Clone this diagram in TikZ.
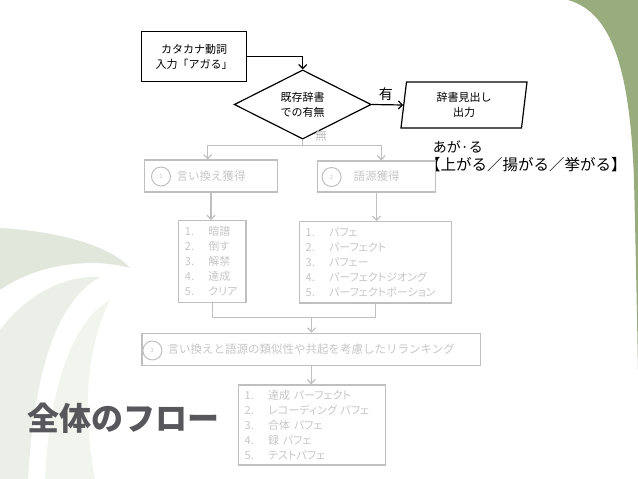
\documentclass[tikz,border=0pt]{standalone}
\usepackage{fontspec}
\setmainfont{Noto Sans CJK JP}
\newfontfamily\propfont{Noto Sans CJK JP}[RawFeature=+palt]
\usepackage{tikz}
\usetikzlibrary{shapes.geometric,arrows.meta,positioning}
\usepackage{xcolor}
\definecolor{leaf}{RGB}{152,172,125}
\definecolor{mist}{RGB}{226,231,219}
\definecolor{haze}{RGB}{236,239,231}
\definecolor{ash}{RGB}{191,191,191}
\definecolor{faint}{RGB}{198,198,198}
\definecolor{slate}{RGB}{88,88,92}
\newcommand{\itm}[2]{\makebox[23.5pt][l]{#1.}#2}

\begin{document}
\begin{tikzpicture}[->,>={Straight Barb[length=4pt,width=8pt]},x=1pt,y=-1pt,
  line width=1.2pt,
  main node/.style={draw,black,text=black,font=\fontsize{11}{15}\selectfont,align=center,inner sep=0pt},
  grey node/.style={rectangle,draw=ash,text=faint,font=\fontsize{11.5}{14}\selectfont,inner sep=0pt},
  list node/.style={rectangle,draw=ash,text=faint,font=\propfont\fontsize{11}{15}\selectfont,align=left,
    inner xsep=6.5pt,inner ysep=0pt,anchor=north west},
  num node/.style={circle,draw=ash,text=faint,font=\fontsize{6}{6}\selectfont,minimum size=19pt,
    inner sep=0pt,line width=1pt}]

  \useasboundingbox (0,0) rectangle (638,479);
  \fill[leaf,-] (568,0) .. controls (612,12) and (630,70) .. (634,180)
    .. controls (636,260) and (637,320) .. (638,370) -- (638,0) -- cycle;
  \fill[mist,-] (0,228) .. controls (70,232) and (115,250) .. (130,268)
    .. controls (95,258) and (40,262) .. (0,290) -- cycle;
  \fill[haze,-] (0,330) .. controls (30,290) and (70,275) .. (100,277)
    .. controls (60,300) and (35,360) .. (28,479) -- (0,479) -- cycle;
  \fill[haze!70,-] (45,479) .. controls (50,380) and (75,320) .. (110,300)
    .. controls (90,340) and (80,400) .. (95,479) -- cycle;
  \shade[left color=white,middle color=leaf,right color=white,-] (310,444)
    .. controls (410,454) and (520,442) .. (600,413)
    .. controls (520,445) and (410,451) .. (310,446) -- cycle;

  \node[main node,minimum width=105pt,minimum height=49.6pt] (1) at (194,56.5)
    {カタカナ動詞\\入力「アガる」};
  \node[main node,diamond,minimum width=137pt,minimum height=57pt] (2) at (302.7,104.5)
    {既存辞書\\での有無};
  \node[main node,trapezium,trapezium left angle=77.7,trapezium right angle=102.3,
    trapezium stretches body,minimum width=126pt,minimum height=46pt] (3) at (464,105)
    {辞書見出し\\出力};
  \node[anchor=west,align=left,font=\fontsize{14}{18.5}\selectfont] (r) at (429,156)
    {あが·る\\\fontsize{15.5}{18.5}\selectfont\hspace{-0.5em}【上がる／揚がる／挙がる】};
  \node[ash,font=\fontsize{12}{12}\selectfont] (n) at (321,136) {無};

  \node[grey node,minimum width=133pt,minimum height=32pt] (4) at (211,176) {言い換え獲得};
  \node[num node] (c1) at (161,176.5) {1};
  \node[grey node,minimum width=117.6pt,minimum height=31pt] (5) at (376.5,176.5) {語源獲得};
  \node[num node] (c2) at (331.6,177) {2};

  \node[list node,text width=54.5pt,minimum height=82pt] (6) at (177.8,220)
    {\itm{1}{暗譜}\\\itm{2}{倒す}\\\itm{3}{解禁}\\\itm{4}{達成}\\\itm{5}{クリア}};
  \node[list node,text width=139.6pt,minimum height=81.3pt] (7) at (298.6,221)
    {\itm{1}{パフェ}\\\itm{2}{パーフェクト}\\\itm{3}{パフェー}\\\itm{4}{パーフェクトジオング}\\\itm{5}{パーフェクトポーション}};

  \node[grey node,minimum width=338.5pt,minimum height=32.4pt] (8) at (311.3,349.4)
    {言い換えと語源の類似性や共起を考慮したリランキング};
  \node[num node] (c3) at (152.4,350.5) {3};

  \node[list node,text width=134.3pt,minimum height=80pt] (9) at (237.6,384.3)
    {\itm{1}{達成 パーフェクト}\\\itm{2}{レコーディング パフェ}\\\itm{3}{合体 パフェ}\\\itm{4}{録 パフェ}\\\itm{5}{テストパフェ}};

  \node[text=slate,font=\fontsize{32}{32}\bfseries] (t) at (123.7,418) {全体のフロー};

  \draw (1.east) -| (2.north);
  \path (2.east) edge node[above,font=\fontsize{14}{14}\selectfont,pos=0.45] {有} (3.west);

  \coordinate (s) at (302.7,145.7);
  \coordinate (j) at (311.6,317.7);
  \draw[ash,-] (2.south) -- (s);
  \draw[ash] (s) -| ([xshift=-3.3pt]4.north);
  \draw[ash] (s) -| ([xshift=4.8pt]5.north);
  \path[ash] (4.south) edge (4.south |- 6.north)
    (5.south) edge (5.south |- 7.north);
  \draw[ash,-] (6.south) |- (j) -| (7.south);
  \draw[ash] (j) -- (j |- 8.north);
  \draw[ash] (8.south) -- (8.south |- 9.north);
\end{tikzpicture}
\end{document}
